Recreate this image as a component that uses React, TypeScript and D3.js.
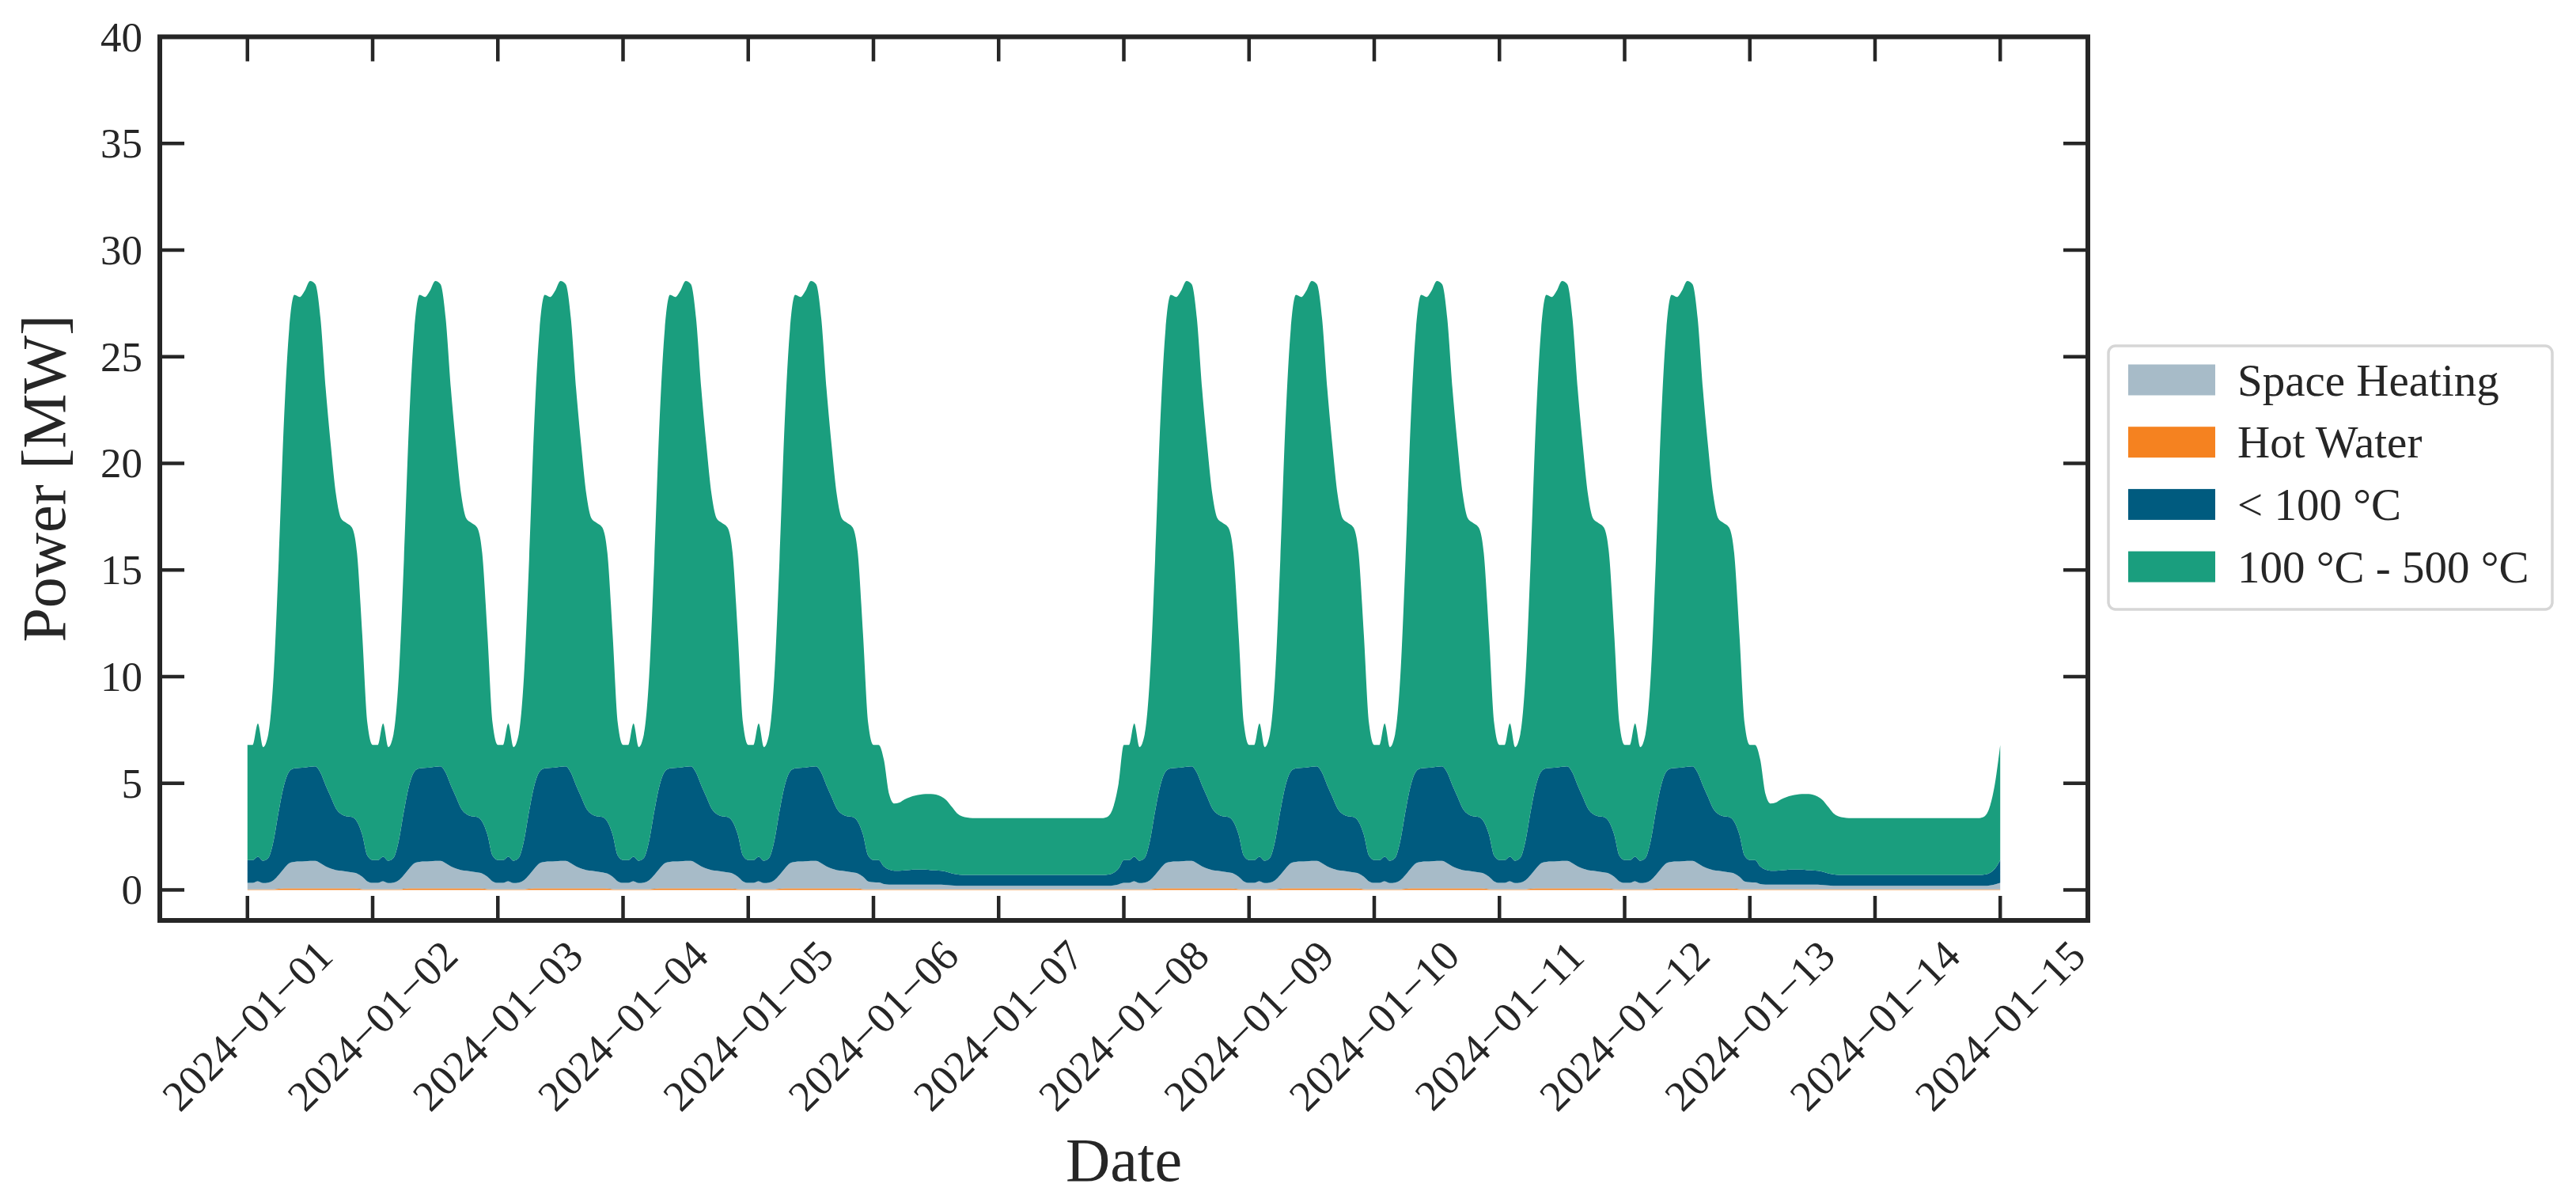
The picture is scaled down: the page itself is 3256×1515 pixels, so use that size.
import { useEffect, useRef } from "react";
import * as d3 from "d3";

// x ticks / days (2024-01-01 is a Monday)
const dates = [
  "2024-01-01", "2024-01-02", "2024-01-03", "2024-01-04", "2024-01-05",
  "2024-01-06", "2024-01-07", "2024-01-08", "2024-01-09", "2024-01-10",
  "2024-01-11", "2024-01-12", "2024-01-13", "2024-01-14", "2024-01-15",
];
const dayTypes = [
  "weekday", "weekday", "weekday", "weekday", "weekday", "saturday", "sunday",
  "weekday", "weekday", "weekday", "weekday", "weekday", "saturday", "sunday",
];
const yTicks = [0, 5, 10, 15, 20, 25, 30, 35, 40];

const seriesKeys = ["spaceHeating", "hotWater", "below100", "mid"];
const seriesLabels = ["Space Heating", "Hot Water", "< 100 °C", "100 °C - 500 °C"];
const seriesColors = ["#A7BBC8", "#F58220", "#005B7F", "#1A9E7E"];
// bottom to top, as drawn
const stackOrder = ["hotWater", "spaceHeating", "below100", "mid"];

// hourly profiles [MW], hours 0..23
const weekdaySpaceHeating = [0.30, 0.30, 0.38, 0.29, 0.31, 0.42, 0.65, 0.93, 1.18, 1.25, 1.26, 1.27, 1.29, 1.29, 1.18, 1.03, 0.93, 0.86, 0.83, 0.79, 0.75, 0.71, 0.58, 0.37];
const weekdayHotWater = [0.03, 0.03, 0.03, 0.03, 0.03, 0.03, 0.05, 0.07, 0.07, 0.07, 0.07, 0.07, 0.07, 0.07, 0.07, 0.07, 0.07, 0.07, 0.07, 0.07, 0.07, 0.06, 0.04, 0.03];
const weekdayBelow100 = [1.07, 1.07, 1.15, 1.05, 1.16, 1.85, 3.0, 3.9, 4.3, 4.38, 4.39, 4.4, 4.42, 4.44, 4.25, 3.8, 3.35, 2.87, 2.65, 2.59, 2.6, 2.43, 1.98, 1.2];
const weekdayMid = [5.4, 5.4, 6.24, 5.33, 5.8, 7.7, 11.8, 17.1, 20.75, 22.2, 22.08, 22.36, 22.77, 22.6, 21.3, 18.6, 16.45, 14.7, 13.85, 13.75, 13.58, 12.6, 9.4, 6.2];

const saturdaySpaceHeating = [0.33, 0.32, 0.25, 0.22, 0.22, 0.22, 0.22, 0.22, 0.22, 0.22, 0.22, 0.22, 0.22, 0.22, 0.20, 0.18, 0.16, 0.16, 0.16, 0.16, 0.16, 0.16, 0.16, 0.16];
const saturdayHotWater = [0.03, 0.03, 0.03, 0.03, 0.03, 0.03, 0.03, 0.03, 0.03, 0.03, 0.03, 0.03, 0.03, 0.03, 0.03, 0.03, 0.03, 0.03, 0.03, 0.03, 0.03, 0.03, 0.03, 0.03];
const saturdayBelow100 = [1.04, 1.05, 0.82, 0.70, 0.65, 0.65, 0.67, 0.69, 0.70, 0.70, 0.70, 0.68, 0.67, 0.65, 0.62, 0.57, 0.54, 0.51, 0.51, 0.51, 0.51, 0.51, 0.51, 0.51];
const saturdayMid = [5.4, 5.4, 5.0, 3.55, 3.15, 3.2, 3.33, 3.41, 3.47, 3.52, 3.55, 3.57, 3.55, 3.48, 3.35, 3.12, 2.87, 2.75, 2.69, 2.67, 2.67, 2.67, 2.67, 2.67];

const sundaySpaceHeating = [0.16, 0.16, 0.16, 0.16, 0.16, 0.16, 0.16, 0.16, 0.16, 0.16, 0.16, 0.16, 0.16, 0.16, 0.16, 0.16, 0.16, 0.16, 0.16, 0.16, 0.16, 0.16, 0.18, 0.23];
const sundayHotWater = [0.03, 0.03, 0.03, 0.03, 0.03, 0.03, 0.03, 0.03, 0.03, 0.03, 0.03, 0.03, 0.03, 0.03, 0.03, 0.03, 0.03, 0.03, 0.03, 0.03, 0.03, 0.03, 0.03, 0.03];
const sundayBelow100 = [0.51, 0.51, 0.51, 0.51, 0.51, 0.51, 0.51, 0.51, 0.51, 0.51, 0.51, 0.51, 0.51, 0.51, 0.51, 0.51, 0.51, 0.51, 0.51, 0.51, 0.51, 0.53, 0.59, 0.74];
const sundayMid = [2.67, 2.67, 2.67, 2.67, 2.67, 2.67, 2.67, 2.67, 2.67, 2.67, 2.67, 2.67, 2.67, 2.67, 2.67, 2.67, 2.67, 2.67, 2.67, 2.67, 2.67, 2.73, 3.1, 4.0];

const profiles: Record<string, Record<string, number[]>> = {
  weekday: { spaceHeating: weekdaySpaceHeating, hotWater: weekdayHotWater, below100: weekdayBelow100, mid: weekdayMid },
  saturday: { spaceHeating: saturdaySpaceHeating, hotWater: saturdayHotWater, below100: saturdayBelow100, mid: saturdayMid },
  sunday: { spaceHeating: sundaySpaceHeating, hotWater: sundayHotWater, below100: sundayBelow100, mid: sundayMid },
};

const FONT = "'Liberation Serif', 'Times New Roman', serif";
const INK = "#262626";

export default function App() {
  const svgRef = useRef<SVGSVGElement>(null);

  useEffect(() => {
    document.body.style.margin = "0";
    if (!svgRef.current) return;
    const width = 3256;
    const height = 1515;
    const left = 202, right = 2639, top = 46.5, bottom = 1163;

    const parse = d3.utcParse("%Y-%m-%d");
    const days = dates.map((d) => parse(d)!);

    // hourly rows
    type Row = { time: Date; [k: string]: any };
    const rows: Row[] = [];
    dayTypes.forEach((type, d) => {
      for (let h = 0; h < 24; h++) {
        const row: Row = { time: d3.utcHour.offset(days[d], h) };
        seriesKeys.forEach((k) => (row[k] = profiles[type][k][h]));
        rows.push(row);
      }
    });
    const last: Row = { time: days[days.length - 1] };
    seriesKeys.forEach((k) => (last[k] = profiles.weekday[k][0]));
    rows.push(last);

    const svg = d3.select(svgRef.current);
    svg.selectAll("*").remove();
    svg.attr("width", width).attr("height", height);

    const dayMs = 864e5;
    const x = d3
      .scaleUtc()
      .domain([
        new Date(days[0].getTime() - 0.7 * dayMs),
        new Date(days[days.length - 1].getTime() + 0.7 * dayMs),
      ])
      .range([left, right]);
    const y = d3.scaleLinear().domain([-1.43, 40]).range([bottom, top]);

    const stacked = d3.stack<Row>().keys(stackOrder)(rows);
    const area = d3
      .area<any>()
      .curve(d3.curveMonotoneX)
      .x((d) => x(d.data.time))
      .y0((d) => y(d[0]))
      .y1((d) => y(d[1]));

    svg
      .append("defs")
      .append("clipPath")
      .attr("id", "plot-clip")
      .append("rect")
      .attr("x", left)
      .attr("y", top)
      .attr("width", right - left)
      .attr("height", bottom - top);

    svg
      .append("g")
      .attr("clip-path", "url(#plot-clip)")
      .selectAll("path")
      .data(stacked)
      .enter()
      .append("path")
      .attr("d", area)
      .attr("fill", (s) => seriesColors[seriesKeys.indexOf(s.key)]);

    // ticks (inward, all four sides)
    const tickLen = 31;
    const ticks = svg.append("g").attr("stroke", INK).attr("stroke-width", 4.5);
    days.forEach((d) => {
      const tx = x(d);
      ticks.append("line").attr("x1", tx).attr("x2", tx).attr("y1", bottom).attr("y2", bottom - tickLen);
      ticks.append("line").attr("x1", tx).attr("x2", tx).attr("y1", top).attr("y2", top + tickLen);
    });
    yTicks.forEach((v) => {
      const ty = y(v);
      ticks.append("line").attr("x1", left).attr("x2", left + tickLen).attr("y1", ty).attr("y2", ty);
      ticks.append("line").attr("x1", right).attr("x2", right - tickLen).attr("y1", ty).attr("y2", ty);
    });

    // frame
    svg
      .append("rect")
      .attr("x", left)
      .attr("y", top)
      .attr("width", right - left)
      .attr("height", bottom - top)
      .attr("fill", "none")
      .attr("stroke", INK)
      .attr("stroke-width", 6);

    // y tick labels
    svg
      .append("g")
      .selectAll("text")
      .data(yTicks)
      .enter()
      .append("text")
      .attr("x", 180)
      .attr("y", (d) => y(d))
      .attr("text-anchor", "end")
      .attr("dominant-baseline", "central")
      .attr("font-family", FONT)
      .attr("font-size", 53)
      .attr("fill", INK)
      .text((d) => d);

    // x tick labels, rotated 45°
    svg
      .append("g")
      .selectAll("text")
      .data(days)
      .enter()
      .append("text")
      .attr("transform", (d) => `translate(${x(d)},1296) rotate(-45)`)
      .attr("text-anchor", "middle")
      .attr("dominant-baseline", "central")
      .attr("font-family", FONT)
      .attr("font-size", 54)
      .attr("fill", INK)
      .text((d, i) => dates[i].replace(/-/g, "\u2212"));

    // axis labels
    svg
      .append("text")
      .attr("x", (left + right) / 2)
      .attr("y", 1492)
      .attr("text-anchor", "middle")
      .attr("font-family", FONT)
      .attr("font-size", 78)
      .attr("fill", INK)
      .text("Date");

    svg
      .append("text")
      .attr("transform", `translate(82,${(top + bottom) / 2}) rotate(-90)`)
      .attr("text-anchor", "middle")
      .attr("font-family", FONT)
      .attr("font-size", 78)
      .attr("fill", INK)
      .text("Power [MW]");

    // legend
    const legend = svg.append("g");
    legend
      .append("rect")
      .attr("x", 2665)
      .attr("y", 437)
      .attr("width", 561)
      .attr("height", 333)
      .attr("rx", 9)
      .attr("fill", "white")
      .attr("stroke", "#D6D6D6")
      .attr("stroke-width", 3.5);

    const items = legend
      .selectAll("g.item")
      .data(seriesLabels)
      .enter()
      .append("g")
      .attr("class", "item")
      .attr("transform", (d, i) => `translate(0,${480 + i * 78.7})`);
    items
      .append("rect")
      .attr("x", 2690)
      .attr("y", -19.5)
      .attr("width", 110)
      .attr("height", 39)
      .attr("fill", (d, i) => seriesColors[i]);
    items
      .append("text")
      .attr("x", 2828)
      .attr("y", 0)
      .attr("dominant-baseline", "central")
      .attr("font-family", FONT)
      .attr("font-size", 57)
      .attr("fill", INK)
      .text((d) => d);
  }, []);

  return <svg ref={svgRef} style={{ display: "block" }}></svg>;
}
